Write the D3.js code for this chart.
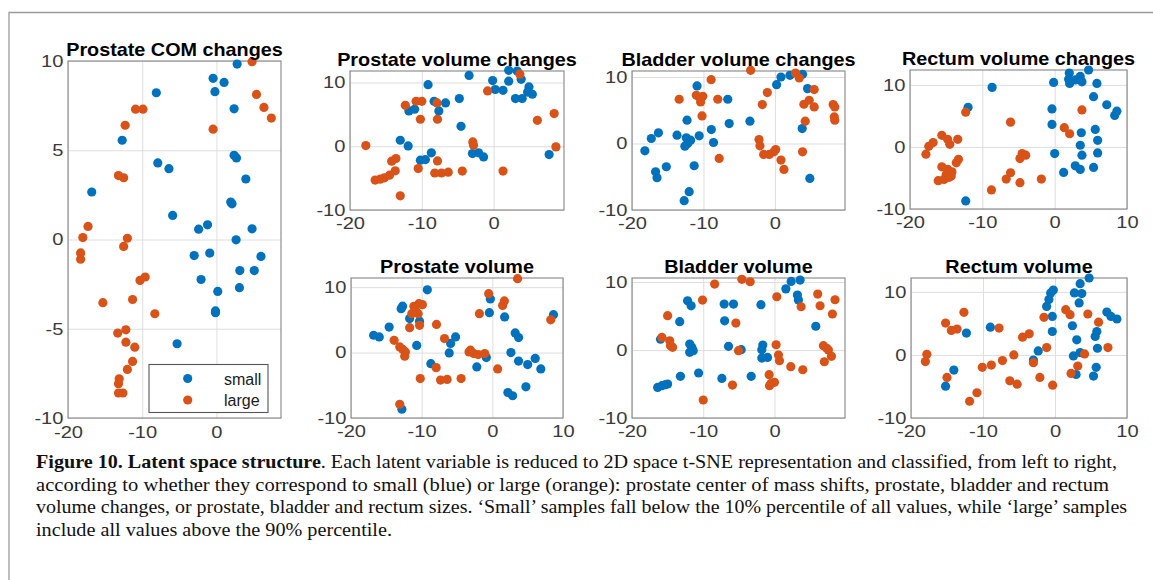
<!DOCTYPE html>
<html><head><meta charset="utf-8">
<script src="https://cdn.jsdelivr.net/npm/d3@7"></script>
<style>body{margin:0;background:#fff}svg{display:block}</style>
</head><body>
<svg id="chart" width="1153" height="580"></svg>
<script>
// ---------- DATA ----------
const seriesNames = ["small", "large"];
const panelTitles = ["Prostate COM changes", "Prostate volume changes", "Bladder volume changes", "Rectum volume changes", "Prostate volume", "Bladder volume", "Rectum volume"];
const xLimits = [[-20, 8.7], [-20, 9.8], [-20, 9.8], [-20, 10], [-20, 10], [-20, 9.9], [-20, 10]];
const yLimits = [[-10, 10], [-10, 11.8], [-10, 10.9], [-10, 12.4], [-10, 11.4], [-10, 10.6], [-10, 12.2]];
const xTickValues = [-20, -10, 0, 10];
const yTickValuesCOM = [-10, -5, 0, 5, 10];
const yTickValues = [-10, 0, 10];

const comSmall = [[-16.8,2.66],[-12.7,5.56],[-8.1,8.22],[-7.9,4.29],[-6.4,3.97],[-5.9,1.35],[-2.4,0.58],[-1.2,0.82],[-0.45,9.03],[-0.2,8.28],[1.03,8.8],[2.38,7.32],[2.79,9.83],[2.38,4.72],[2.7,4.57],[3.96,3.39],[1.93,2.1],[2.1,2.0],[4.8,0.6],[2.65,-0.02],[-3.0,-0.9],[-0.9,-0.76],[-2.07,-2.24],[0.18,-2.91],[-0.13,-4.0],[-0.13,-4.1],[6.0,-0.95],[3.15,-1.74],[5.1,-1.74],[3.1,-2.7],[-5.3,-5.84]];
const comLarge = [[4.8,9.96],[5.4,8.13],[6.4,7.4],[7.4,6.8],[-0.45,6.18],[-10.9,7.3],[-9.9,7.3],[-12.3,6.4],[-13.2,3.58],[-12.5,3.46],[-17.3,0.73],[-18.0,0.11],[-12.0,0.07],[-12.5,-0.39],[-18.3,-0.75],[-18.3,-1.1],[-10.3,-2.29],[-9.6,-2.1],[-15.3,-3.54],[-11.3,-3.36],[-8.3,-4.16],[-12.2,-5.06],[-13.3,-5.24],[-12.2,-5.75],[-11.0,-6.03],[-11.3,-6.83],[-12.0,-7.28],[-13.1,-7.8],[-13.2,-8.08],[-13.2,-8.6],[-12.6,-8.6]];

const pvcSmall = [[-3.42,11.1],[2.1,11.9],[3.28,11.8],[3.84,10.5],[-0.14,10.3],[2.1,10.2],[0.23,8.9],[1.31,8.77],[4.92,9.3],[4.73,8.5],[5.39,8.15],[3.04,7.47],[3.98,7.47],[-9.13,9.66],[-8.29,7.05],[-6.7,6.79],[-7.63,5.54],[-11.8,5.54],[-11.0,5.8],[-4.78,7.47],[-4.54,3.13],[-13.0,0.94],[-11.9,0.05],[-8.67,-1.04],[-10.2,-2.19],[-9.5,-2.09],[-2.95,-1.15],[-2.1,-1.04],[-1.4,-1.67],[7.73,-1.3]];
const pvcLarge = [[3.65,11.3],[-0.84,8.67],[-12.3,6.42],[-10.8,7.05],[-10.0,7.05],[-7.87,6.79],[-10.2,4.23],[-7.82,4.23],[8.43,5.12],[6.09,4.07],[8.67,-0.1],[-2.9,0.68],[-2.8,0.16],[-17.8,0.1],[-14.2,-2.35],[-13.6,-1.93],[-7.82,-2.3],[-10.5,-3.5],[-13.7,-3.86],[-16.5,-5.3],[-15.8,-5.17],[-15.2,-4.96],[-14.5,-4.54],[-8.2,-4.2],[-7.26,-4.2],[-6.32,-4.07],[-4.36,-3.9],[1.31,-3.9],[-13.0,-7.78]];

const bvcSmall = [[-18.2,-1.1],[-17.3,0.75],[-16.3,1.6],[-16.7,-4.25],[-16.5,-5.15],[-15.2,-3.5],[-13.7,1.25],[-12.3,3.5],[-12.4,0.85],[-11.8,0.5],[-12.6,-0.4],[-12.2,0],[-10.6,1.15],[-10.9,8.65],[-8.9,2.1],[-8.6,0.15],[-11.3,-3.35],[-12.0,-7.25],[-12.7,-8.6],[-6.6,6.65],[-6.4,3.0],[-3.5,3.35],[0.23,8.85],[0.84,10.0],[2.1,10.25],[3.86,10.4],[4.56,8.25],[3.81,2.25],[4.88,-5.25]];
const bvcLarge = [[-13.4,6.65],[-11.0,7.25],[-10.5,6.9],[-10.1,7.1],[-10.4,6.25],[-10.2,4.15],[-8.93,9.6],[-8.0,6.65],[-7.8,-2.25],[-3.4,11.0],[-1.77,5.85],[-1.07,7.65],[-2.23,0.6],[-2.1,-0.35],[-1.58,-1.65],[-0.8,-1.65],[-0.14,-1.25],[0.1,-0.9],[0.84,-2.5],[1.26,-3.9],[2.88,10.6],[3.4,9.85],[5.49,8.1],[4.05,5.9],[4.79,6.5],[5.49,5.5],[4.23,3.35],[3.86,-1.25],[8.14,5.85],[8.37,5.5],[8.3,4.0],[8.37,3.5]];

const rvcSmall = [[-0.14,10.4],[1.93,10.9],[2.07,10.24],[2.02,11.9],[2.85,10.8],[3.54,11.36],[3.77,10.5],[4.69,12.4],[5.84,10.24],[5.38,8.1],[7.2,6.8],[8.6,5.76],[8.3,5.07],[-8.65,9.6],[-11.97,6.4],[-0.37,6.13],[-0.37,3.63],[0.0,-1.07],[3.68,2.29],[5.61,2.83],[5.94,1.07],[3.54,0.27],[3.77,-1.33],[5.94,-0.96],[1.24,-4.1],[2.85,-3.04],[3.54,-3.63],[5.38,-3.3],[-12.3,-8.7]];
const rvcLarge = [[-12.3,5.6],[-6.1,4.0],[3.77,5.97],[1.33,3.1],[2.07,2.13],[-15.6,1.87],[-14.8,1.23],[-14.5,0.43],[-13.4,1.23],[-16.8,0.7],[-17.4,0.1],[-17.8,-1.17],[-13.3,-2.0],[-13.6,-2.56],[-15.6,-3.2],[-14.8,-3.6],[-14.2,-4.0],[-14.3,-4.7],[-16.1,-5.44],[-15.3,-5.23],[-14.6,-4.9],[-15.0,-4.5],[-4.5,-1.07],[-4.8,-1.87],[-4.0,-1.33],[-6.1,-4.16],[-6.7,-5.17],[-4.8,-5.76],[-1.84,-5.17],[-8.74,-6.93]];

const pvSmall = [[-16.8,2.65],[-16.0,2.4],[-14.6,3.9],[-12.7,7.1],[-12.9,6.7],[-11.7,5.2],[-10.3,4.8],[-9.2,9.6],[-10.7,1.1],[-8.7,-1.7],[-5.9,1.4],[-5.2,2.4],[-6.1,-0.05],[-2.2,-2.2],[-0.85,-0.76],[-0.42,6.1],[-0.28,8.2],[1.74,5.45],[3.24,3.0],[3.71,2.3],[2.63,0],[3.71,-1.3],[5.0,-1.83],[6.07,-0.9],[6.86,-2.5],[2.2,-6.1],[2.87,-6.6],[4.75,-5.24],[8.65,5.8],[-12.8,-8.65]];
const pvLarge = [[3.57,11.3],[-0.52,9.0],[1.7,7.9],[1.46,7.2],[-1.83,5.95],[-11.1,7.07],[-10.4,7.48],[-9.9,7.33],[-11.4,5.95],[-10.9,6.46],[-10.5,5.95],[-11.7,3.8],[-10.3,4.17],[-7.9,4.3],[-13.9,1.88],[-13.1,0.87],[-12.7,0.5],[-12.3,0.1],[-12.4,-0.56],[-6.77,2.14],[-7.95,-2.3],[-10.2,-3.97],[-7.33,-4.2],[-6.4,-4.1],[-4.42,-3.97],[-3.1,0.36],[-2.63,-0.15],[-2.0,-0.3],[-1.08,-0.15],[-3.3,0.1],[0.75,-2.5],[8.27,5.0],[-13.1,-7.9]];

const bvSmall = [[-16.4,-5.5],[-15.8,-5.25],[-15.3,-5.1],[-15.0,-5.0],[-16.0,1.6],[-13.3,4.17],[-13.2,-3.87],[-12.2,7.25],[-11.7,6.5],[-11.9,0.88],[-11.6,0.4],[-11.9,-0.34],[-11.4,-0.1],[-10.65,-3.38],[-7.06,6.76],[-5.75,6.76],[-7.0,4.3],[-6.45,0.54],[-4.67,0.05],[-7.38,-4.17],[-3.27,-3.87],[-1.9,6.67],[-1.64,0.74],[-1.78,0.05],[-1.78,-1.18],[-0.98,-1.08],[1.6,9.0],[2.34,10.1],[3.6,10.3],[3.22,8.1],[3.36,7.35],[5.8,3.5]];
const bvLarge = [[-15.0,5.05],[-15.8,1.86],[-14.7,1.37],[-14.6,0.64],[-14.3,0.4],[-10.1,7.35],[-10.0,-7.35],[-8.4,9.7],[-4.58,10.4],[-3.41,10.05],[-5.42,3.97],[-5.05,-0.1],[-5.9,-5.15],[0.33,7.84],[0.23,0.78],[0.56,-0.74],[0.7,-1.57],[-0.75,-3.63],[-0.47,-4.9],[0.0,-4.75],[-0.7,-5.25],[2.29,-2.45],[3.97,-2.9],[3.74,6.37],[6.07,8.23],[6.4,6.52],[8.5,7.4],[8.13,5.3],[6.87,0.64],[7.34,0.25],[7.57,0],[7.0,-1.72],[8.0,-0.93]];

const rvSmall = [[4.74,12.2],[3.49,11.3],[2.7,9.84],[3.72,9.73],[3.35,8.24],[-0.23,10.3],[-0.6,9.84],[-0.84,8.8],[-1.16,7.7],[7.2,6.8],[7.77,6.1],[8.6,5.7],[-0.37,6.1],[-0.37,3.72],[2.42,4.63],[5.81,3.72],[5.58,2.93],[3.02,2.4],[5.9,1.06],[2.56,-0.16],[3.49,0.37],[-2.33,0.64],[-3.0,-0.8],[5.72,-1.97],[2.93,-3.1],[5.35,-3.35],[-8.98,4.4],[-12.3,3.46],[-14.05,-2.4],[-15.2,-4.95]];
const rvLarge = [[-12.65,6.76],[-15.2,5.05],[-14.4,3.88],[-13.6,4.1],[-7.77,4.26],[-17.8,0.1],[-18.0,-1.06],[-15.0,-3.56],[-10.1,-1.97],[-8.84,-1.6],[-7.3,-0.9],[-5.72,0],[-6.28,-4.1],[-5.26,-4.63],[-10.84,-6.0],[-11.86,-7.34],[-4.51,2.82],[-3.58,3.35],[-3.0,-1.22],[-2.1,-3.56],[-0.33,-4.79],[-1.53,5.96],[-1.16,1.17],[1.49,7.18],[2.09,6.38],[4.56,6.49],[6.05,5.2],[4.1,0.16],[3.16,-1.76],[2.23,-2.93],[7.35,1.17]];

const smallSets = [comSmall, pvcSmall, bvcSmall, rvcSmall, pvSmall, bvSmall, rvSmall];
const largeSets = [comLarge, pvcLarge, bvcLarge, rvcLarge, pvLarge, bvLarge, rvLarge];

const captionBold = "Figure 10. Latent space structure";
const captionLines = [
  ". Each latent variable is reduced to 2D space t-SNE representation and classified, from left to right,",
  "according to whether they correspond to small (blue) or large (orange): prostate center of mass shifts, prostate, bladder and rectum",
  "volume changes, or prostate, bladder and rectum sizes. \u2018Small\u2019 samples fall below the 10% percentile of all values, while \u2018large\u2019 samples",
  "include all values above the 90% percentile."
];

// ---------- LAYOUT / STYLE ----------
const boxes = [
  {x0:68, x1:281, y0:61, y1:418, xl:20.5},
  {x0:350, x1:564, y0:71, y1:210, xl:19},
  {x0:632, x1:845, y0:71, y1:210, xl:19},
  {x0:910, x1:1127, y0:70, y1:209, xl:19},
  {x0:351, x1:563, y0:278, y1:418, xl:19},
  {x0:632, x1:845, y0:278, y1:418, xl:19},
  {x0:911, x1:1127, y0:278, y1:418, xl:19}
];
const colors = {small:"#0072BD", large:"#D95319"};
const tickFont = "'Liberation Sans', Arial, sans-serif";
const tickScale = 1.22;
const tickSize = 16.5;

const svg = d3.select("#chart");

// figure frame
svg.append("path").attr("d","M9,600 V12.5 H1170").attr("fill","none").attr("stroke","#9a9a9a").attr("stroke-width",1.3);

panelTitles.forEach((title, i) => {
  const b = boxes[i];
  const x = d3.scaleLinear().domain(xLimits[i]).range([b.x0, b.x1]);
  const y = d3.scaleLinear().domain(yLimits[i]).range([b.y1, b.y0]);
  const xt = xTickValues.filter(v => v >= xLimits[i][0] && v <= xLimits[i][1] + 1e-9);
  const yt = (i === 0 ? yTickValuesCOM : yTickValues).filter(v => v <= yLimits[i][1] + 1e-9);
  const g = svg.append("g");

  // grid
  g.append("g").attr("transform", `translate(0,${b.y1})`)
    .call(d3.axisBottom(x).tickValues(xt).tickSize(-(b.y1 - b.y0)).tickFormat(""))
    .call(s => { s.select(".domain").remove(); s.selectAll("line").attr("stroke","#dedede"); });
  g.append("g").attr("transform", `translate(${b.x0},0)`)
    .call(d3.axisLeft(y).tickValues(yt).tickSize(-(b.x1 - b.x0)).tickFormat(""))
    .call(s => { s.select(".domain").remove(); s.selectAll("line").attr("stroke","#dedede"); });

  // box
  g.append("rect").attr("x", b.x0).attr("y", b.y0).attr("width", b.x1 - b.x0).attr("height", b.y1 - b.y0)
    .attr("fill","none").attr("stroke","#858585").attr("stroke-width",1.1);

  // tick labels
  g.append("g").attr("transform", `translate(0,${b.y1})`)
    .call(d3.axisBottom(x).tickValues(xt).tickSize(0).tickPadding(b.xl - 0.71 * tickSize).tickFormat(d3.format("d")))
    .call(s => {
      s.select(".domain").remove();
      s.selectAll("text").attr("font-family", tickFont).attr("font-size", tickSize).attr("fill","#3a3a3a")
        .attr("transform", `scale(${tickScale},1)`).text(d => d < 0 ? "-" + Math.abs(d) : d);
    });
  g.append("g").attr("transform", `translate(${b.x0},0)`)
    .call(d3.axisLeft(y).tickValues(yt).tickSize(0).tickPadding(4.5 / tickScale).tickFormat(d3.format("d")))
    .call(s => {
      s.select(".domain").remove();
      s.selectAll("text").attr("font-family", tickFont).attr("font-size", tickSize).attr("fill","#3a3a3a")
        .attr("transform", `scale(${tickScale},1)`).text(d => d < 0 ? "-" + Math.abs(d) : d);
    });

  // title
  svg.append("text")
    .attr("transform", `translate(${(b.x0 + b.x1) / 2},${b.y0 - 5.5}) scale(1.1,1)`)
    .attr("text-anchor","middle").attr("font-family", tickFont).attr("font-weight","bold")
    .attr("font-size", 18).attr("fill","#000").text(title);

  // points: small first, then large
  [["small", smallSets[i]], ["large", largeSets[i]]].forEach(([name, pts]) => {
    g.append("g").selectAll("circle").data(pts).join("circle")
      .attr("cx", d => x(d[0])).attr("cy", d => y(d[1])).attr("r", 4.6)
      .attr("fill", colors[name]);
  });
});

// legend in first panel
const leg = svg.append("g");
leg.append("rect").attr("x",149).attr("y",364.5).attr("width",119).attr("height",48)
  .attr("fill","#fff").attr("stroke","#555").attr("stroke-width",1.1);
seriesNames.forEach((name, k) => {
  const cy = 378.5 + k * 21.5;
  leg.append("circle").attr("cx",187.7).attr("cy",cy).attr("r",4.6).attr("fill",colors[name]);
  leg.append("text").attr("x",224).attr("y",cy + 6).attr("font-family",tickFont).attr("font-size",16)
    .attr("fill","#1a1a1a").text(name);
});

// caption
const capFont = "'Liberation Serif', 'Times New Roman', serif";
const capEnds = [1117, 1109, 1127, 392];
const capBase = [467.5, 490.5, 513, 535.5];
captionLines.forEach((line, k) => {
  const t = svg.append("text").attr("x",36).attr("y",capBase[k]).attr("font-family",capFont)
    .attr("font-size",19.5).attr("fill","#111")
    .attr("textLength", capEnds[k] - 36).attr("lengthAdjust","spacingAndGlyphs");
  if (k === 0) t.append("tspan").attr("font-weight","bold").text(captionBold);
  t.append("tspan").text(line);
});
</script>
</body></html>
